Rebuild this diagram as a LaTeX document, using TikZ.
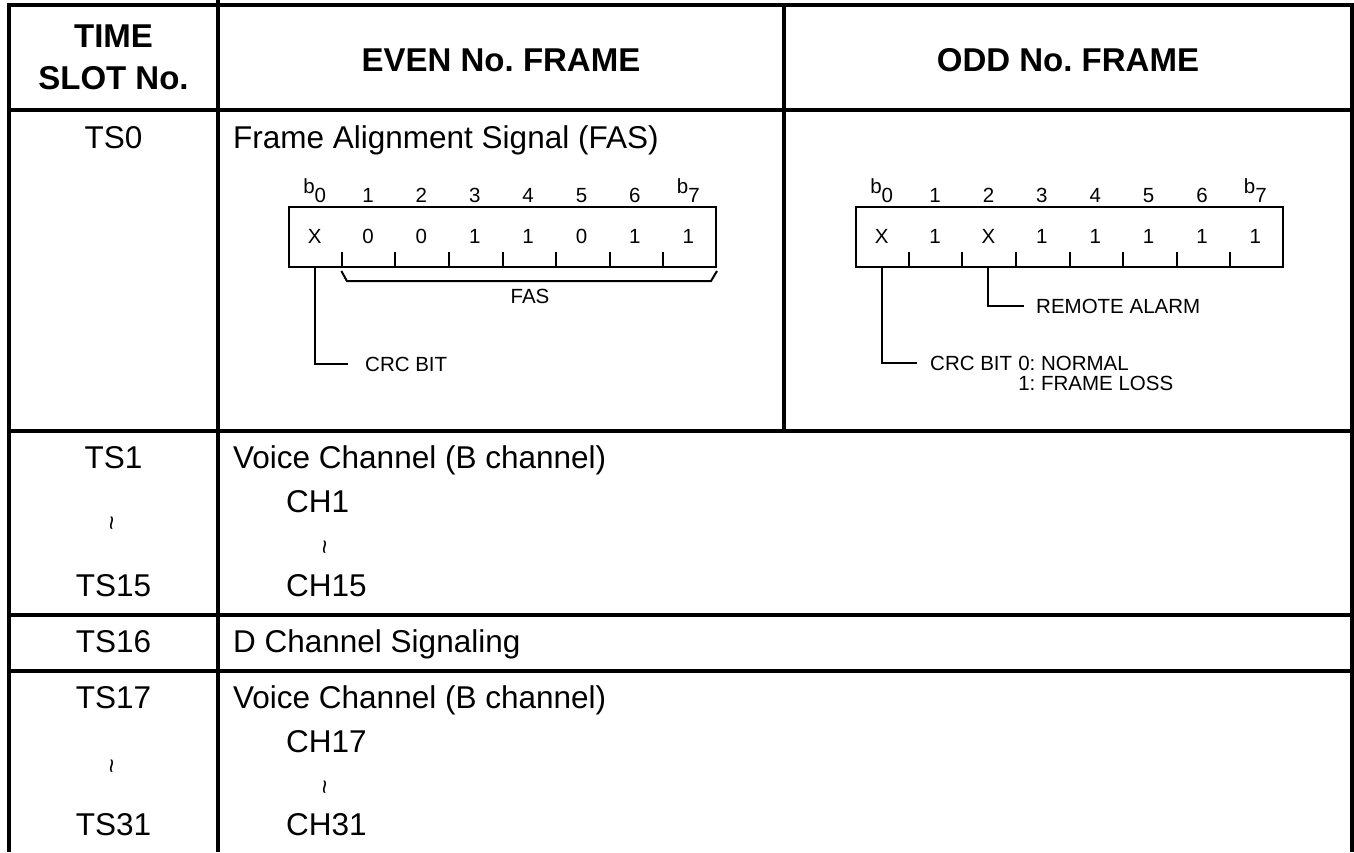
\documentclass[tikz,border=0pt]{standalone}
\usepackage{fontspec}
\setmainfont{Liberation Sans}
\usetikzlibrary{calc}
\begin{document}
\frenchspacing
\begin{tikzpicture}[x=1pt,y=-1pt,
  tblrule/.style={line width=3.2pt},
  leader/.style={line width=2pt},
  headtxt/.style={font=\fontsize{33}{42}\selectfont\bfseries, inner sep=0pt, align=center},
  bodytxt/.style={font=\fontsize{31.5}{36}\selectfont, inner sep=0pt},
  bittxt/.style={font=\fontsize{20.5}{24}\selectfont, inner sep=0pt},
  waveglyph/.style={font=\fontsize{25}{28}\selectfont, inner sep=0pt, rotate=90},
  bitbox/.style={draw, line width=2pt, minimum width=427pt, minimum height=60pt, inner sep=0pt, anchor=north west}]

\useasboundingbox (0,0) rectangle (1354,852);

% ---- table frame and rules ----
\draw[tblrule] (9,852) -- (9,5) -- (1352,5) -- (1352,852);
\draw[tblrule] (218,0) -- (218,852);
\draw[tblrule] (784,5) -- (784,431);
\foreach \yy in {110,431,615,671}
  \draw[tblrule] (9,\yy) -- (1352,\yy);

% ---- header row ----
\node[headtxt] (hts)   at (113.5,57) {TIME\\SLOT No.};
\node[headtxt] (heven) at (501,60)   {EVEN No. FRAME};
\node[headtxt] (hodd)  at (1068,60)  {ODD No. FRAME};

% ---- TS0 row ----
\node[bodytxt, anchor=base]      (ts0)  at (113.5,148) {TS0};
\node[bodytxt, anchor=base west] (fas0) at (233,148)   {Frame Alignment Signal (FAS)};

% even frame octet
\node[bitbox] (ebox) at (288,206) {};
\foreach \k in {1,...,7}
  \draw[leader] ($(ebox.south west)!\k/8!(ebox.south east)$) -- ++(0,-16);
\foreach \lab [count=\k from 0] in {{\raisebox{9pt}{b}0},1,2,3,4,5,6,{\raisebox{9pt}{b}7}}
  \node[bittxt, anchor=base] (et\k) at ($(ebox.north west)+(\k*53.375+26.69,-4)$) {\lab};
\foreach \d [count=\k from 0] in {X,0,0,1,1,0,1,1}
  \node[bittxt, anchor=base] (ed\k) at ($(ebox.north west)+(\k*53.375+26.69,37.3)$) {\d};
\draw[leader] ($(ebox.south west)+(53.375,3)$) -- ++(5.5,10)
  -- ($(ebox.south east)+(-6,13)$) -- ($(ebox.south east)+(0,3)$);
\node[bittxt, anchor=base] (fasl) at (530,303) {FAS};
\coordinate (e0) at ($(ebox.south west)+(26.69,0)$);
\node[bittxt, anchor=base west] (crce) at (365,371) {CRC BIT};
\draw[leader] (e0) |- ([xshift=-17pt]crce.west);

% odd frame octet
\node[bitbox] (obox) at (855,206) {};
\foreach \k in {1,...,7}
  \draw[leader] ($(obox.south west)!\k/8!(obox.south east)$) -- ++(0,-16);
\foreach \lab [count=\k from 0] in {{\raisebox{9pt}{b}0},1,2,3,4,5,6,{\raisebox{9pt}{b}7}}
  \node[bittxt, anchor=base] (ot\k) at ($(obox.north west)+(\k*53.375+26.69,-4)$) {\lab};
\foreach \d [count=\k from 0] in {X,1,X,1,1,1,1,1}
  \node[bittxt, anchor=base] (od\k) at ($(obox.north west)+(\k*53.375+26.69,37.3)$) {\d};
\coordinate (o0) at ($(obox.south west)+(26.69,0)$);
\coordinate (o2) at ($(obox.south west)+(133.44,0)$);
\node[bittxt, anchor=base west] (rem) at (1036,313) {REMOTE ALARM};
\draw[leader] (o2) |- ([xshift=-12pt]rem.west);
\node[bittxt, anchor=base west] (crco) at (930,370) {CRC BIT};
\node[bittxt, anchor=base west] (norm) at ([xshift=5.7pt]crco.base east) {0: NORMAL};
\node[bittxt, anchor=base west] (loss) at ([yshift=-20pt]norm.base west) {1: FRAME LOSS};
\draw[leader] (o0) |- ([xshift=-13pt]crco.west);

% ---- TS1 to TS15 ----
\node[bodytxt, anchor=base]      (ts1)  at (113.5,468) {TS1};
\node[waveglyph]                 (tsa)  at (115,523)   {\textasciitilde};
\node[bodytxt, anchor=base]      (ts15) at (113.5,596) {TS15};
\node[bodytxt, anchor=base west] (vc1)  at (233,468)   {Voice Channel (B channel)};
\node[bodytxt, anchor=base west] (ch1)  at (286,512)   {CH1};
\node[waveglyph]                 (cha)  at (328,547)   {\textasciitilde};
\node[bodytxt, anchor=base west] (ch15) at (286,596)   {CH15};

% ---- TS16 ----
\node[bodytxt, anchor=base]      (ts16) at (113.5,652) {TS16};
\node[bodytxt, anchor=base west] (dch)  at (233,652)   {D Channel Signaling};

% ---- TS17 to TS31 ----
\node[bodytxt, anchor=base]      (ts17) at (113.5,708) {TS17};
\node[waveglyph]                 (tsb)  at (115,766)   {\textasciitilde};
\node[bodytxt, anchor=base]      (ts31) at (113.5,835) {TS31};
\node[bodytxt, anchor=base west] (vc2)  at (233,708)   {Voice Channel (B channel)};
\node[bodytxt, anchor=base west] (ch17) at (286,752)   {CH17};
\node[waveglyph]                 (chb)  at (328,787)   {\textasciitilde};
\node[bodytxt, anchor=base west] (ch31) at (286,835)   {CH31};
\end{tikzpicture}
\end{document}
